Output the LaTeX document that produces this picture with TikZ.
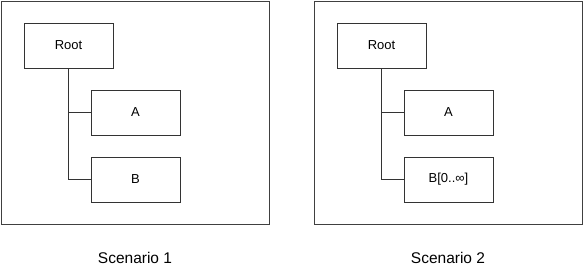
\documentclass[tikz,border=0pt]{standalone}
\usepackage{fontspec}
\setmainfont{Liberation Sans}
\usetikzlibrary{positioning}
\definecolor{linecol}{HTML}{333333}
\definecolor{framecol}{HTML}{404040}

\begin{document}
\begin{tikzpicture}[
    x=1pt, y=-1pt,
    frame/.style={draw=framecol, line width=0.9pt},
    elbox/.style={draw=linecol, line width=0.9pt, minimum width=89pt, minimum height=45pt,
        inner sep=0pt, font=\fontsize{13}{15}\selectfont},
    caption/.style={font=\fontsize{15.5}{18}\selectfont},
    link/.style={draw=linecol, line width=0.9pt},
]
\useasboundingbox (0,0) rectangle (584,276);

% ============================================================
%  Two scenarios, side by side
% ============================================================
\foreach \xo/\num/\btext in {0/1/B, 313/2/B[0..∞]} {
    \begin{scope}[xshift=\xo pt]
        \draw[frame] (1,1) rectangle (269.5,224);

        \node[elbox] (root\num) at (68.5,45.5) {Root};
        \node[elbox] (a\num) at (135.5,112.5) {A};
        \node[elbox] (b\num) at (135.5,179.5) {\btext};

        \node[caption] (cap\num) at (135,258) {Scenario \num};

        % tree connectors
        \draw[link] (root\num.south) |- (a\num.west);
        \draw[link] (root\num.south) |- (b\num.west);
    \end{scope}
}

\end{tikzpicture}
\end{document}
